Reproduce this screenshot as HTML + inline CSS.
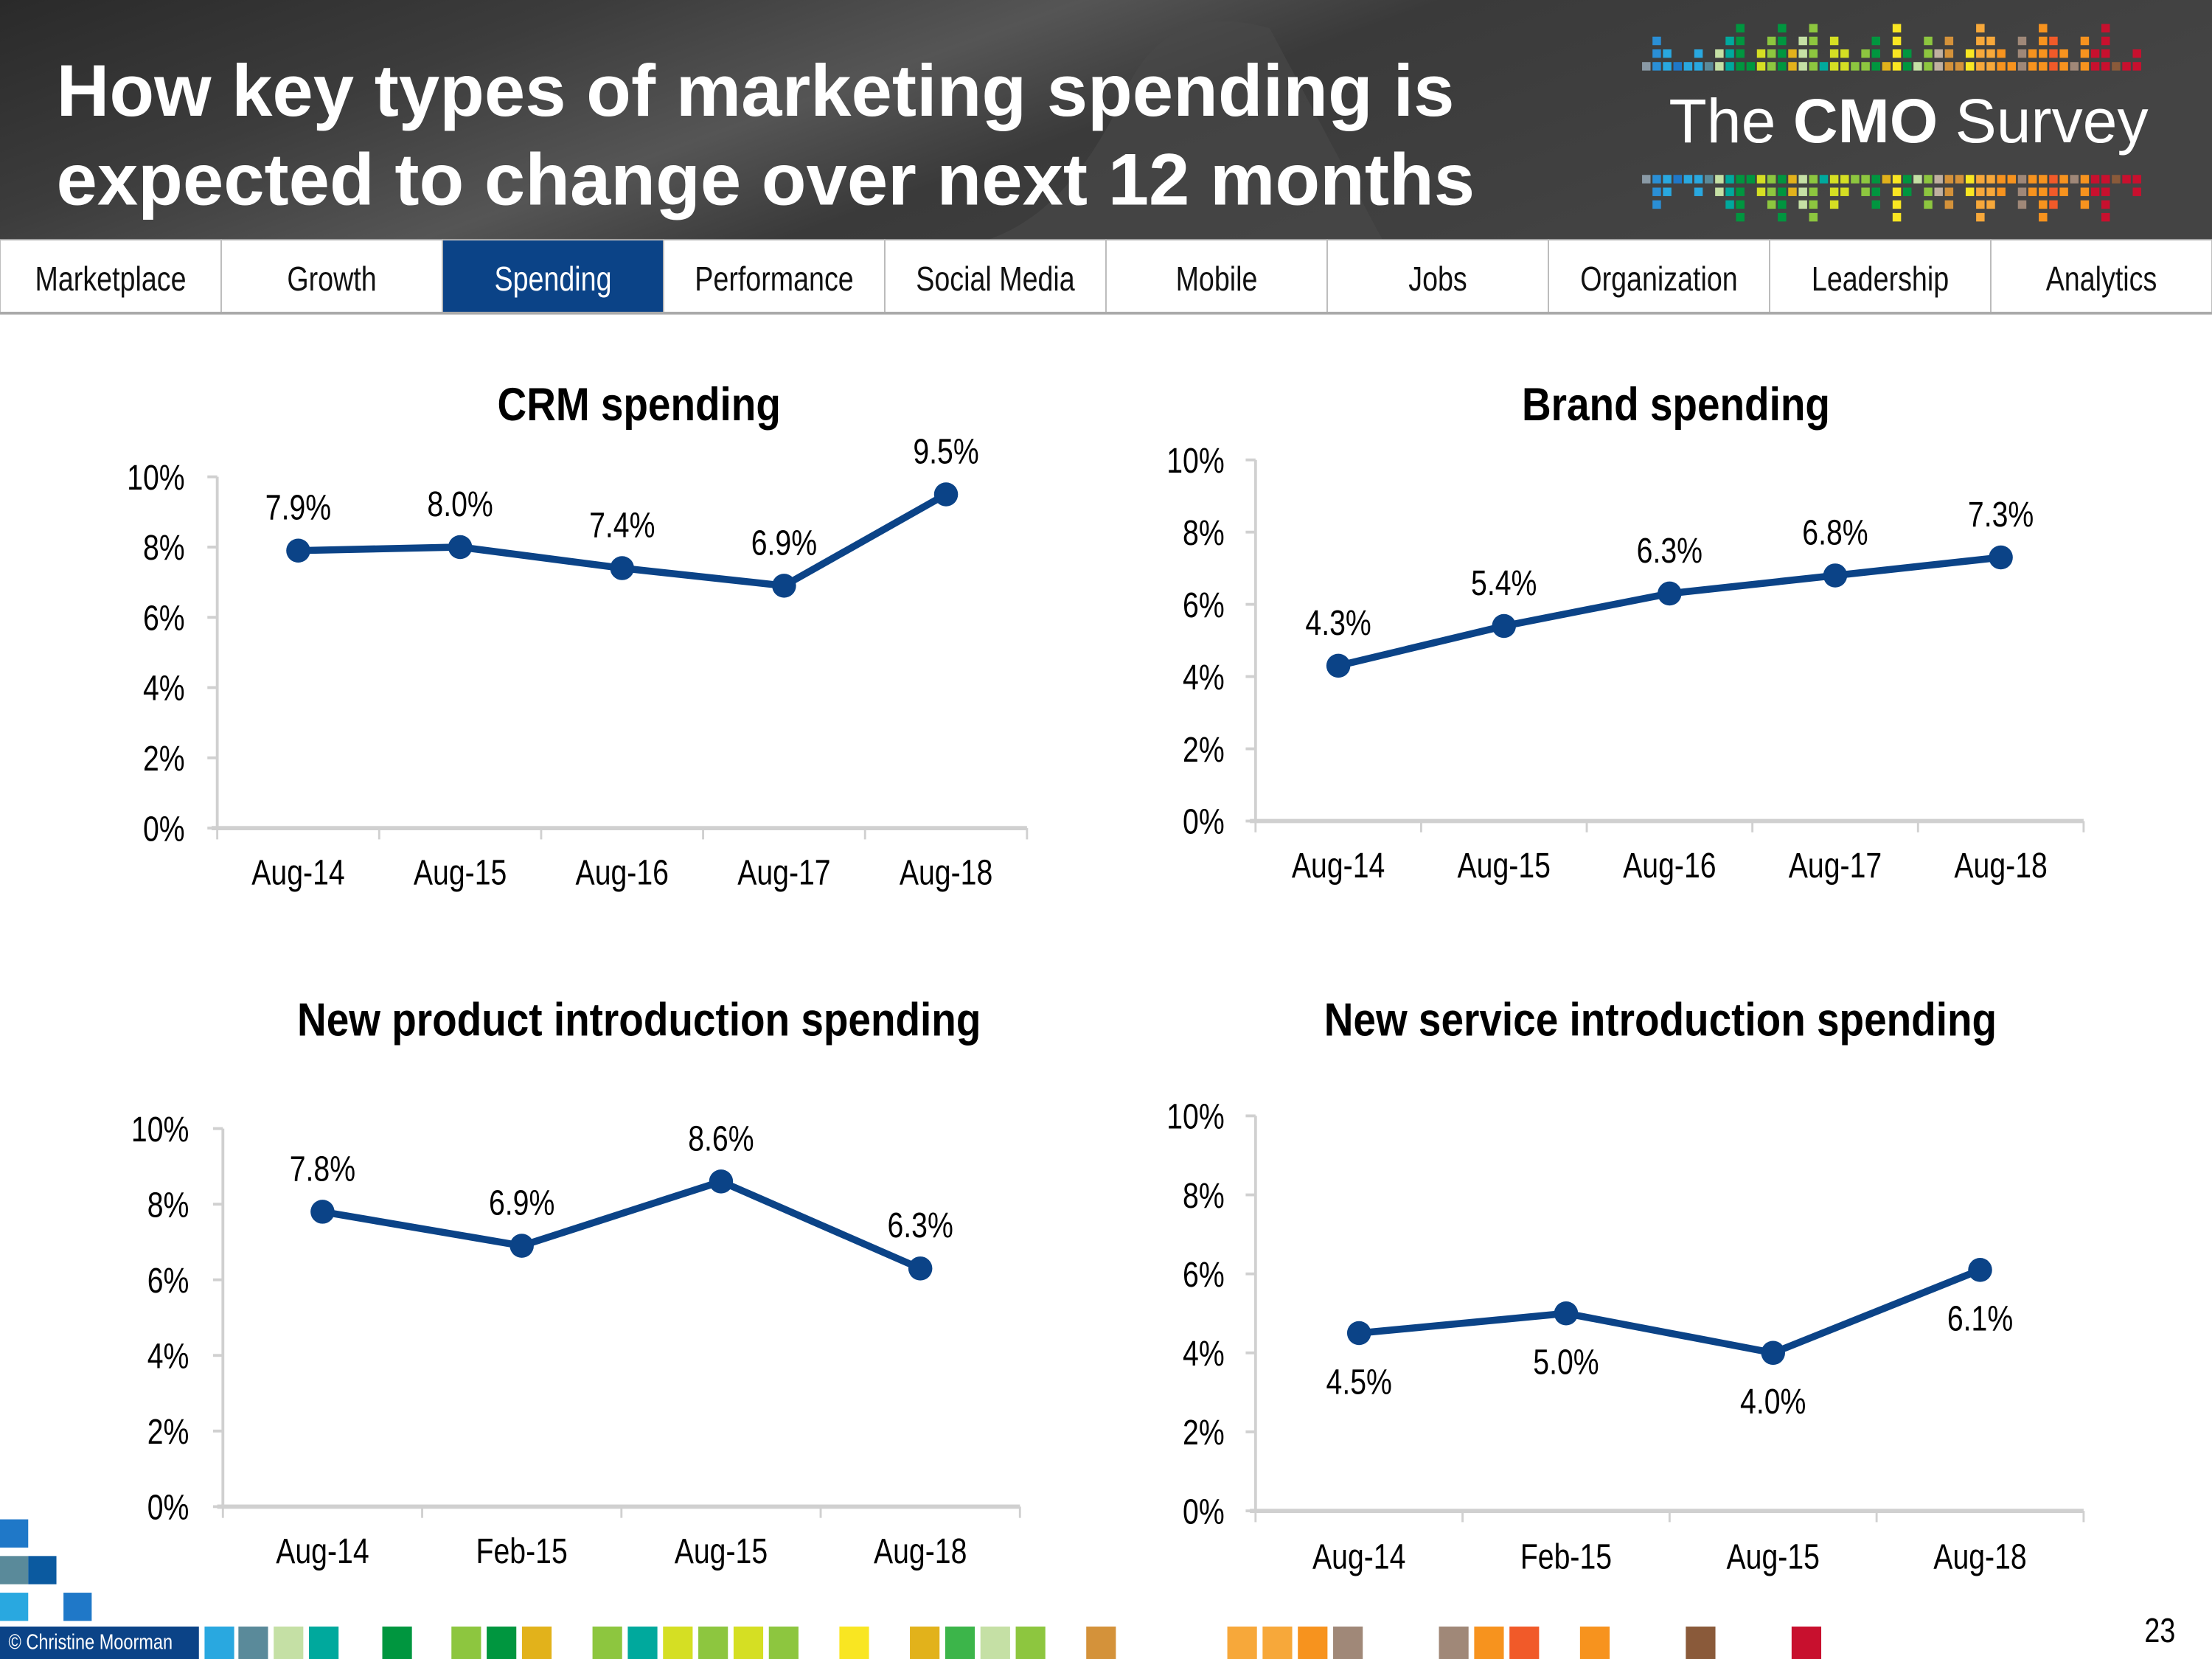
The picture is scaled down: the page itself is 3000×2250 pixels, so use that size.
<!DOCTYPE html>
<html><head><meta charset="utf-8"><style>
html,body{margin:0;padding:0;background:#fff}
svg{display:block}
text{font-family:"Liberation Sans",sans-serif}
</style></head><body>
<svg id="root" width="3000" height="2250" viewBox="0 0 1568 1176" xmlns="http://www.w3.org/2000/svg">
<defs>
<linearGradient id="hdr" x1="0" y1="0" x2="1" y2="0.3">
<stop offset="0" stop-color="#2a2a2a"/><stop offset="0.25" stop-color="#3c3c3c"/><stop offset="0.45" stop-color="#555"/><stop offset="0.6" stop-color="#3a3a3a"/><stop offset="1" stop-color="#444"/>
</linearGradient>
</defs>
<g>
<rect x="0" y="0" width="1568" height="170" fill="url(#hdr)"/>
<path d="M700 170 Q760 150 800 60 Q830 0 900 20 L980 170Z" fill="#4a4a4a" opacity="0.6"/>
<text fill="#fff" font-weight="bold" font-size="52"><tspan x="40" y="82">How key types of marketing spending is</tspan><tspan x="40" y="145">expected to change over next 12 months</tspan></text>
<g id="logo">
<text x="1183" y="101" fill="#fff" font-size="44" font-weight="300"><tspan>The </tspan><tspan font-weight="bold">CMO</tspan><tspan> Survey</tspan></text>
</g>
</g>
<g id="nav"></g>
<g id="charts"></g>
<g id="footer"></g>
</svg>
<script>
const NS='http://www.w3.org/2000/svg';
const root=document.getElementById('root');
function el(tag,attrs,parent){const e=document.createElementNS(NS,tag);for(const k in attrs)e.setAttribute(k,attrs[k]);(parent||root).appendChild(e);return e;}
function ntext(parent,x,y,str,size,anchor,bold,fill,sx){
  const t=el('text',{transform:`translate(${x},${y}) scale(${sx||0.82},1)`,'font-size':size,'text-anchor':anchor||'middle',fill:fill||'#000'},parent);
  if(bold)t.setAttribute('font-weight','bold');
  t.textContent=str;return t;
}
const navTabs=['Marketplace','Growth','Spending','Performance','Social Media','Mobile','Jobs','Organization','Leadership','Analytics'];
const nav=document.getElementById('nav');
const tw=1568/10;
navTabs.forEach((n,i)=>{
  const g=el('g',{},nav);
  
  
  const act=n==='Spending';
  el('rect',{x:i*tw,y:170,width:tw,height:52,fill:act?'#0b4387':'#fff',stroke:'#bbb','stroke-width':1},g);
  ntext(g,i*tw+tw/2,206,n,24,'middle',false,act?'#fff':'#111');
});
el('line',{x1:0,y1:222,x2:1568,y2:222,stroke:'#aaa','stroke-width':2},nav);

const logo=document.getElementById('logo');
const logoCols=['#8a9aa6','#2a8fd6','#29a8e0','#1f78c8','#29a8e0','#29a8e0','#5a8a9a','#c5e0a5','#00a99d','#00963f','#00963f','#d5df23','#8dc63f','#00963f','#e2b21b','#c5e0a5','#8dc63f','#00a99d','#d5df23','#d5df23','#8dc63f','#8dc63f','#00963f','#e2b21b','#f9e622','#00963f','#c5e0a5','#8dc63f','#c0b0a0','#d4923a','#d4923a','#f9e622','#f7a83a','#f7a83a','#f7931e','#f7931e','#a08878','#f7931e','#f7931e','#f15a29','#f7931e','#a08878','#f7931e','#c8102e','#c8102e','#8a5a3a','#c8102e','#c8102e'];
const logoH=[1,3,2,1,1,2,1,2,3,4,1,2,3,4,2,3,4,1,3,2,1,2,3,1,4,2,1,3,2,3,1,2,4,3,2,1,3,2,4,3,2,1,3,2,4,1,1,2];
logoCols.forEach((c,i)=>{
  const x=1164+i*7.4;
  for(let k=0;k<logoH[i];k++){
    el('rect',{x:x,y:44-k*9,width:6,height:6,fill:c},logo);
    el('rect',{x:x,y:124+k*9,width:6,height:6,fill:c},logo);
  }
});

const crmCats=['Aug-14','Aug-15','Aug-16','Aug-17','Aug-18'];
const crmVals=[7.9,8.0,7.4,6.9,9.5];
const brandCats=['Aug-14','Aug-15','Aug-16','Aug-17','Aug-18'];
const brandVals=[4.3,5.4,6.3,6.8,7.3];
const npiCats=['Aug-14','Feb-15','Aug-15','Aug-18'];
const npiVals=[7.8,6.9,8.6,6.3];
const nsiCats=['Aug-14','Feb-15','Aug-15','Aug-18'];
const nsiVals=[4.5,5.0,4.0,6.1];
const yTicks=[0,2,4,6,8,10];

function chart(name,title,titleX,titleY,cats,vals,L,R,y0,y10,ylabX,catY,labelBelow){
  const g=el('g',{});
  
  
  ntext(g,titleX,titleY,title,33,'middle',true,'#000',0.87);
  const ys=v=>y0-(v/10)*(y0-y10);
  const bw=(R-L)/cats.length;
  const xs=i=>L+bw*(i+0.5);
  el('line',{x1:L,y1:y10,x2:L,y2:y0,stroke:'#d0d0d0','stroke-width':2},g);
  yTicks.forEach(t=>{
    el('line',{x1:L-7,y1:ys(t),x2:L,y2:ys(t),stroke:'#d0d0d0','stroke-width':2},g);
    const tl=ntext(g,ylabX,ys(t)+9,t+'%',25,'end');
    
    
  });
  el('line',{x1:L-4,y1:y0,x2:R,y2:y0,stroke:'#d0d0d0','stroke-width':3},g);
  for(let i=0;i<=cats.length;i++) el('line',{x1:L+bw*i,y1:y0,x2:L+bw*i,y2:y0+8,stroke:'#d0d0d0','stroke-width':1.5},g);
  cats.forEach((c,i)=>{
    const t=ntext(g,xs(i),catY,c,25,'middle');
    
    
  });
  const pts=vals.map((v,i)=>xs(i)+','+ys(v)).join(' ');
  const line=el('polyline',{points:pts,fill:'none',stroke:'#0b4387','stroke-width':5,'stroke-linejoin':'round'},g);
  
  
  vals.forEach((v,i)=>{
    const c=el('circle',{cx:xs(i),cy:ys(v),r:8.5,fill:'#0b4387'},g);
    
    
    const below=labelBelow(i);
    const t=ntext(g,xs(i),below?ys(v)+43:ys(v)-22,v.toFixed(1)+'%',25,'middle');
    
    
  });
}
chart('crm-chart','CRM spending',453,298,crmCats,crmVals,154,728,587,338,131,627,()=>false);
chart('brand-chart','Brand spending',1188,298,brandCats,brandVals,890,1477,582,326,868,622,()=>false);
chart('npi-chart','New product introduction spending',453,734,npiCats,npiVals,158,723,1068,800,134,1108,()=>false);
chart('nsi-chart','New service introduction spending',1177,734,nsiCats,nsiVals,890,1477,1071,791,868,1112,()=>true);

const ft=document.getElementById('footer');
[[0,1077,'#1f78c8'],[0,1103,'#5a8a9a'],[20,1103,'#0b5aa0'],[0,1129,'#29a8e0'],[45,1129,'#1f78c8']].forEach(s=>el('rect',{x:s[0],y:s[1],width:20,height:20,fill:s[2]},ft));
el('rect',{x:0,y:1153,width:141,height:23,fill:'#0b4387'},ft);
ntext(ft,6,1169,'© Christine Moorman',15,'start',false,'#fff');
const fCols=[[145,'#29a8e0'],[169,'#5a8a9a'],[194,'#c5e0a5'],[219,'#00a99d'],[271,'#00963f'],[320,'#8dc63f'],[345,'#00963f'],[370,'#e2b21b'],[420,'#8dc63f'],[445,'#00a99d'],[470,'#d5df23'],[495,'#8dc63f'],[520,'#d5df23'],[545,'#8dc63f'],[595,'#f9e622'],[645,'#e2b21b'],[670,'#3cb54a'],[695,'#c5e0a5'],[720,'#8dc63f'],[770,'#d4923a'],[870,'#f7a83a'],[895,'#f7a83a'],[920,'#f7931e'],[945,'#a08878'],[1020,'#a08878'],[1045,'#f7931e'],[1070,'#f15a29'],[1120,'#f7931e'],[1195,'#8a5a3a'],[1270,'#c8102e']];
fCols.forEach(c=>el('rect',{x:c[0],y:1153,width:21,height:23,fill:c[1]},ft));
ntext(ft,1542,1164,'23',24,'end');
</script>
</body></html>
